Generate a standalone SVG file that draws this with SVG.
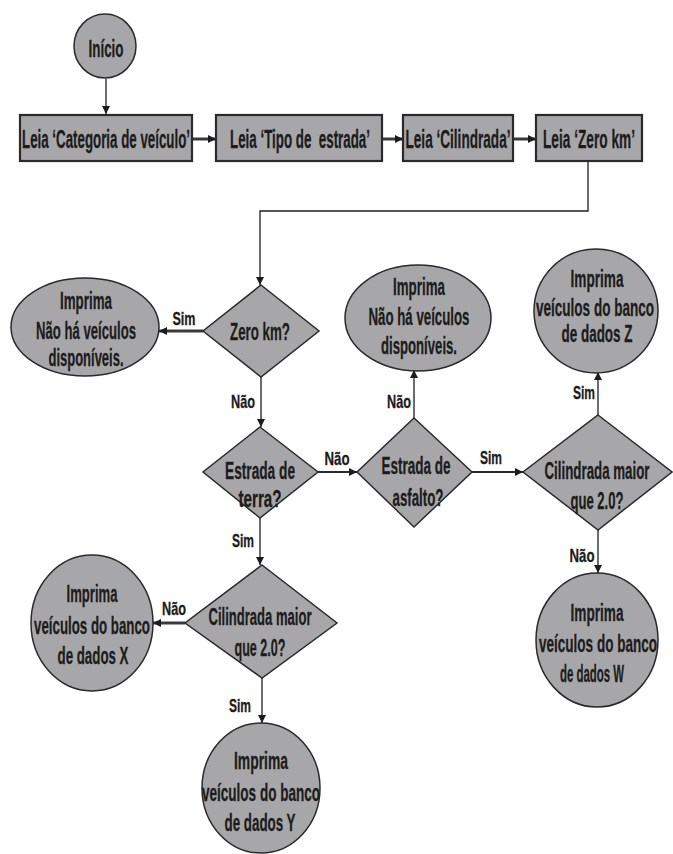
<svg xmlns="http://www.w3.org/2000/svg" width="673" height="854" viewBox="0 0 673 854">
<style>
.n{fill:#a7a7a9;stroke:#2a2a2a;stroke-width:1.5}
.b{fill:#a7a7a9;stroke:#2a2a2a;stroke-width:2.2}
text{font-family:"Liberation Sans Narrow","Liberation Sans",Arial,sans-serif;font-weight:bold;font-size:24px;fill:#1c1c1c;stroke:#1c1c1c;stroke-width:0.3;text-anchor:middle}
.h{font-size:26px}
.l{font-size:19px}
.c{fill:none;stroke:#1e1e1e;stroke-width:1.3}
.m{fill:none;stroke:#2a2a2a;stroke-width:2}
.t{fill:none;stroke:#3a3a3a;stroke-width:3}
</style>
<defs>
<marker id="a" viewBox="0 0 10 10" refX="10" refY="5" markerWidth="8" markerHeight="8" markerUnits="userSpaceOnUse" orient="auto"><path d="M0,0L10,5L0,10z" fill="#1c1c1c"/></marker>
</defs>
<g id="connectors">
<path class="c" d="M106,79V114" marker-end="url(#a)"/>
<path class="t" d="M192,139H216" marker-end="url(#a)"/>
<path class="t" d="M382,139H403" marker-end="url(#a)"/>
<path class="t" d="M513,139H536" marker-end="url(#a)"/>
<path class="c" d="M588,162V211H260V285" marker-end="url(#a)"/>
<path class="t" d="M203,331H159" marker-end="url(#a)"/>
<path class="c" d="M261,377V427" marker-end="url(#a)"/>
<path class="m" d="M318,472H357" marker-end="url(#a)"/>
<path class="c" d="M414,418V370" marker-end="url(#a)"/>
<path class="m" d="M472,472H523" marker-end="url(#a)"/>
<path class="c" d="M598,415V372" marker-end="url(#a)"/>
<path class="c" d="M598,530V573" marker-end="url(#a)"/>
<path class="c" d="M260,518V565" marker-end="url(#a)"/>
<path class="t" d="M185,623H153" marker-end="url(#a)"/>
<path class="c" d="M262,678V723" marker-end="url(#a)"/>
<text class="l" x="184" y="325" textLength="23" lengthAdjust="spacingAndGlyphs">Sim</text>
<text class="l" x="243" y="408" textLength="24" lengthAdjust="spacingAndGlyphs">Não</text>
<text class="l" x="399" y="408" textLength="24" lengthAdjust="spacingAndGlyphs">Não</text>
<text class="l" x="584" y="399" textLength="22" lengthAdjust="spacingAndGlyphs">Sim</text>
<text class="l" x="337" y="465" textLength="25" lengthAdjust="spacingAndGlyphs">Não</text>
<text class="l" x="491" y="464" textLength="22" lengthAdjust="spacingAndGlyphs">Sim</text>
<text class="l" x="243" y="547" textLength="22" lengthAdjust="spacingAndGlyphs">Sim</text>
<text class="l" x="582" y="562" textLength="25" lengthAdjust="spacingAndGlyphs">Não</text>
<text class="l" x="174" y="615" textLength="24" lengthAdjust="spacingAndGlyphs">Não</text>
<text class="l" x="240" y="712" textLength="22" lengthAdjust="spacingAndGlyphs">Sim</text>
</g>
<g id="inicio"><ellipse class="n" cx="105" cy="46" rx="31" ry="32"/><text x="106" y="57" textLength="35" lengthAdjust="spacingAndGlyphs">Início</text></g>
<g id="leia-categoria"><rect class="b" x="20" y="115" width="172" height="46"/><text class="h" x="106" y="148" textLength="168" lengthAdjust="spacingAndGlyphs">Leia ‘Categoria de veículo’</text></g>
<g id="leia-tipo"><rect class="b" x="216" y="115" width="166" height="46"/><text class="h" x="300" y="148" textLength="140" lengthAdjust="spacingAndGlyphs">Leia ‘Tipo de&#160; estrada’</text></g>
<g id="leia-cilindrada"><rect class="b" x="403" y="115" width="110" height="46"/><text class="h" x="458" y="148" textLength="105" lengthAdjust="spacingAndGlyphs">Leia ‘Cilindrada’</text></g>
<g id="leia-zero"><rect class="b" x="536" y="115" width="106" height="46"/><text class="h" x="589" y="148" textLength="92" lengthAdjust="spacingAndGlyphs">Leia ‘Zero km’</text></g>
<g id="zero-km"><path class="n" d="M261,285L319,331L261,377L203,331z"/><text x="260" y="340" textLength="60" lengthAdjust="spacingAndGlyphs">Zero km?</text></g>
<g id="sem-veiculos-1"><ellipse class="n" cx="85" cy="327" rx="74" ry="49"/>
<text x="86" y="309" textLength="52" lengthAdjust="spacingAndGlyphs">Imprima</text>
<text x="86" y="339" textLength="100" lengthAdjust="spacingAndGlyphs">Não há veículos</text>
<text x="86" y="366" textLength="75" lengthAdjust="spacingAndGlyphs">disponíveis.</text></g>
<g id="sem-veiculos-2"><ellipse class="n" cx="418" cy="318" rx="73" ry="53"/>
<text x="419" y="295" textLength="52" lengthAdjust="spacingAndGlyphs">Imprima</text>
<text x="419" y="325" textLength="101" lengthAdjust="spacingAndGlyphs">Não há veículos</text>
<text x="419" y="354" textLength="76" lengthAdjust="spacingAndGlyphs">disponíveis.</text></g>
<g id="banco-z"><ellipse class="n" cx="596" cy="311" rx="62" ry="62"/>
<text x="597" y="287" textLength="53" lengthAdjust="spacingAndGlyphs">Imprima</text>
<text x="595" y="316" textLength="118" lengthAdjust="spacingAndGlyphs">veículos do banco</text>
<text x="597" y="342" textLength="71" lengthAdjust="spacingAndGlyphs">de dados Z</text></g>
<g id="estrada-terra"><path class="n" d="M260,427L318,472L260,518L203,472z"/>
<text x="260" y="479" textLength="70" lengthAdjust="spacingAndGlyphs">Estrada de</text>
<text x="260" y="507" textLength="43" lengthAdjust="spacingAndGlyphs">terra?</text></g>
<g id="estrada-asfalto"><path class="n" d="M414,418L472,472L414,527L357,472z"/>
<text x="416" y="474" textLength="69" lengthAdjust="spacingAndGlyphs">Estrada de</text>
<text x="418" y="506" textLength="51" lengthAdjust="spacingAndGlyphs">asfalto?</text></g>
<g id="cilindrada-dir"><path class="n" d="M598,415L672,472L598,530L523,472z"/>
<text x="597" y="479" textLength="105" lengthAdjust="spacingAndGlyphs">Cilindrada maior</text>
<text x="597" y="509" textLength="53" lengthAdjust="spacingAndGlyphs">que 2.0?</text></g>
<g id="banco-w"><ellipse class="n" cx="597" cy="640" rx="61" ry="67"/>
<text x="597" y="621" textLength="53" lengthAdjust="spacingAndGlyphs">Imprima</text>
<text x="598" y="652" textLength="118" lengthAdjust="spacingAndGlyphs">veículos do banco</text>
<text x="592" y="682" textLength="64" lengthAdjust="spacingAndGlyphs">de dados W</text></g>
<g id="cilindrada-esq"><path class="n" d="M262,565L337,623L262,678L185,623z"/>
<text x="260" y="625" textLength="103" lengthAdjust="spacingAndGlyphs">Cilindrada maior</text>
<text x="260" y="656" textLength="51" lengthAdjust="spacingAndGlyphs">que 2.0?</text></g>
<g id="banco-x"><ellipse class="n" cx="92" cy="623" rx="61" ry="68"/>
<text x="92" y="602" textLength="51" lengthAdjust="spacingAndGlyphs">Imprima</text>
<text x="92" y="634" textLength="116" lengthAdjust="spacingAndGlyphs">veículos do banco</text>
<text x="93" y="664" textLength="71" lengthAdjust="spacingAndGlyphs">de dados X</text></g>
<g id="banco-y"><ellipse class="n" cx="261" cy="788" rx="59" ry="65"/>
<text x="261" y="769" textLength="54" lengthAdjust="spacingAndGlyphs">Imprima</text>
<text x="261" y="801" textLength="118" lengthAdjust="spacingAndGlyphs">veículos do banco</text>
<text x="260" y="831" textLength="71" lengthAdjust="spacingAndGlyphs">de dados Y</text></g>
</svg>
